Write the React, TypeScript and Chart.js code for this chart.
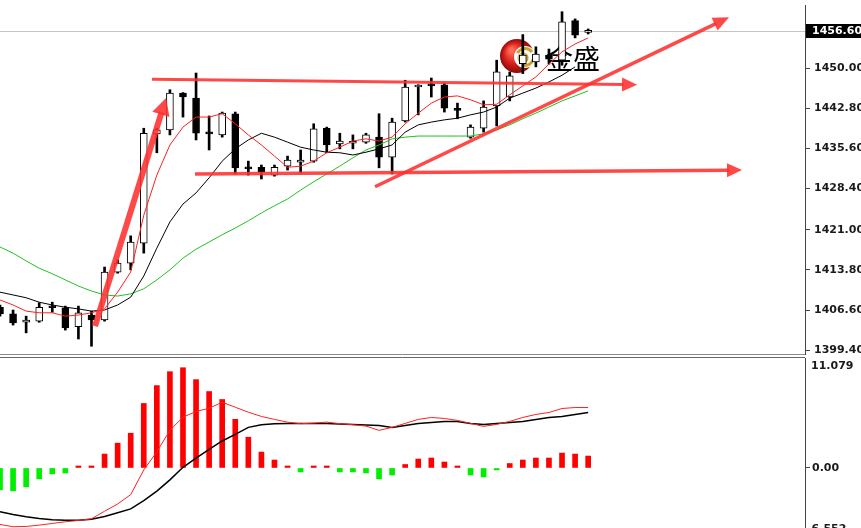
import React, { useEffect, useRef } from 'react';
import { Chart, registerables } from 'chart.js';

Chart.register(...registerables);

// ---------------- data ----------------
const BAR_INDEX = [
  0, 1, 2, 3, 4, 5, 6, 7, 8, 9, 10, 11, 12, 13, 14, 15, 16, 17, 18, 19, 20, 21, 22,
  23, 24, 25, 26, 27, 28, 29, 30, 31, 32, 33, 34, 35, 36, 37, 38, 39, 40, 41, 42, 43, 44, 45,
];

const OPEN = [
  1407.1, 1405.9, 1404.4, 1404.6, 1407.3, 1407.0, 1403.6, 1405.7, 1404.8, 1413.4,
  1415.0, 1418.6, 1438.2, 1438.9, 1445.5, 1444.6, 1438.5, 1438.0, 1441.8, 1432.2,
  1432.2, 1430.8, 1432.4, 1433.1, 1433.3, 1439.2, 1436.4, 1436.5, 1436.7, 1437.6,
  1434.0, 1440.5, 1446.6, 1447.0, 1447.0, 1442.6, 1437.6, 1439.2, 1443.2, 1444.8,
  1450.8, 1451.1, 1452.3, 1451.4, 1458.5, 1456.4,
];
const HIGH = [
  1407.5, 1406.6, 1405.5, 1407.9, 1408.0, 1407.3, 1407.3, 1406.4, 1414.3, 1415.6,
  1419.9, 1439.2, 1439.2, 1446.1, 1445.6, 1449.1, 1441.4, 1442.1, 1442.1, 1433.3,
  1432.6, 1432.6, 1434.2, 1435.3, 1440.0, 1439.4, 1438.3, 1438.0, 1438.3, 1441.8,
  1441.0, 1447.8, 1447.0, 1448.2, 1447.3, 1443.7, 1439.8, 1444.1, 1451.4, 1449.3,
  1456.0, 1453.8, 1453.4, 1460.1, 1458.8, 1457.0,
];
const LOW = [
  1405.5, 1403.9, 1402.5, 1404.4, 1406.2, 1403.0, 1401.4, 1400.1, 1404.6, 1413.2,
  1413.8, 1416.8, 1434.8, 1438.0, 1441.2, 1437.1, 1435.3, 1437.6, 1431.0, 1430.8,
  1430.1, 1430.6, 1431.7, 1431.2, 1433.1, 1434.8, 1435.5, 1435.5, 1436.5, 1432.1,
  1431.0, 1440.3, 1441.6, 1444.8, 1442.1, 1440.9, 1437.4, 1438.5, 1439.6, 1444.1,
  1449.0, 1450.2, 1450.7, 1450.5, 1455.4, 1456.1,
];
const CLOSE = [
  1405.9, 1404.3, 1404.8, 1407.1, 1407.0, 1403.4, 1406.1, 1404.8, 1413.4, 1415.0,
  1418.8, 1438.3, 1438.9, 1445.5, 1444.8, 1438.3, 1438.2, 1441.9, 1432.1, 1431.9,
  1431.3, 1432.2, 1433.5, 1433.5, 1439.1, 1436.2, 1436.9, 1436.7, 1438.0, 1434.0,
  1440.3, 1446.6, 1446.9, 1446.8, 1442.8, 1442.4, 1439.4, 1443.0, 1449.3, 1448.6,
  1452.3, 1452.5, 1451.6, 1458.3, 1455.9, 1456.6,
];

const MA_FAST = [
  1408.4, 1407.5, 1406.4, 1406.1, 1406.1, 1405.5, 1405.7, 1406.1, 1406.8, 1409.8,
  1413.4, 1423.6, 1430.8, 1436.2, 1439.4, 1441.2, 1441.2, 1441.8, 1440.0, 1438.0,
  1436.2, 1434.2, 1432.2, 1432.4, 1433.3, 1434.8, 1435.8, 1436.9, 1437.3, 1436.9,
  1437.6, 1440.0, 1441.9, 1443.7, 1444.8, 1445.0, 1444.3, 1443.4, 1443.5, 1445.2,
  1446.8, 1448.4, 1450.7, 1452.9, 1454.3, 1455.4,
];
const MA_MID = [
  1409.8, 1409.3, 1408.8, 1408.0, 1407.5, 1407.1, 1406.8, 1406.4, 1406.6, 1407.5,
  1408.9, 1412.7, 1417.7, 1422.4, 1425.6, 1427.6, 1430.3, 1433.3, 1435.5, 1437.1,
  1438.3, 1437.6, 1436.7, 1435.8, 1435.3, 1434.9, 1434.8, 1434.4, 1434.9, 1435.5,
  1436.2, 1438.5, 1439.8, 1440.3, 1440.7, 1441.0, 1441.6, 1442.1, 1443.0, 1444.6,
  1445.5, 1446.4, 1447.5, 1448.7, 1450.2, null,
];
const MA_SLOW = [
  1417.9, 1416.8, 1415.4, 1414.1, 1413.1, 1412.0, 1410.9, 1410.0, 1409.3, 1409.1,
  1409.5, 1410.4, 1412.0, 1413.8, 1415.9, 1417.5, 1418.8, 1420.1, 1421.3, 1422.6,
  1424.0, 1425.3, 1426.5, 1428.1, 1429.6, 1431.0, 1432.4, 1433.9, 1435.3, 1436.2,
  1437.3, 1437.6, 1437.8, 1437.8, 1437.8, 1437.8, 1437.8, 1438.2, 1438.9, 1439.8,
  1440.9, 1441.9, 1443.0, 1444.1, 1445.0, 1445.9,
];

const PRICE_TICKS = [1399.4, 1406.6, 1413.8, 1421.0, 1428.4, 1435.6, 1442.8, 1450.0];
const PRICE_MIN = 1398.71;
const PRICE_MAX = 1461.3;
const LAST_PRICE = 1456.6;
const LAST_PRICE_LABEL = '1456.60';

const MACD_HIST = [
  -2.2, -2.3, -1.9, -1.1, -0.6, -0.5, 0.15, 0.2, 1.4, 2.5,
  3.5, 6.5, 8.3, 9.7, 10.1, 8.9, 7.7, 6.9, 4.9, 3.1,
  1.6, 0.8, 0.15, -0.4, 0.15, 0.15, -0.4, -0.4, -0.5, -1.1,
  -0.7, 0.35, 0.9, 1.0, 0.6, 0.1, -0.7, -0.9, -0.2, 0.45,
  0.8, 1.0, 1.0, 1.5, 1.4, 1.2,
];
const MACD_LINE = [
  -5.69, -5.92, -5.89, -5.76, -5.59, -5.42, -5.29, -5.12, -4.36, -3.63,
  -2.69, -0.2, 1.63, 3.79, 5.12, 5.69, 6.02, 6.62, 6.12, 5.62,
  5.19, 4.89, 4.62, 4.46, 4.52, 4.62, 4.46, 4.36, 4.22, 3.79,
  4.09, 4.49, 4.89, 5.09, 4.99, 4.79, 4.49, 4.19, 4.39, 4.69,
  5.09, 5.39, 5.59, 5.99, 6.09, 6.09,
];
const SIGNAL_LINE = [
  -4.42, -4.69, -4.92, -5.09, -5.22, -5.26, -5.26, -5.16, -4.89, -4.52,
  -4.12, -3.29, -2.33, -1.2, 0.07, 1.0, 1.87, 2.72, 3.39, 4.09,
  4.36, 4.46, 4.49, 4.49, 4.49, 4.49, 4.44, 4.39, 4.34, 4.29,
  4.09, 4.29, 4.49, 4.59, 4.69, 4.69, 4.49, 4.39, 4.49, 4.59,
  4.69, 4.89, 5.09, 5.19, 5.39, 5.59,
];
const MACD_MAX = 11.079;
const MACD_MIN = -6.552;
const MACD_TICKS = [0];

// trend arrows in data coordinates: [bar index, price]
const TREND_FROM = [[7.27, 1403.7], [11.63, 1448.0], [14.92, 1431.0], [28.69, 1428.7]];
const TREND_TO = [[12.7, 1444.6], [48.74, 1447.0], [56.77, 1431.7], [55.78, 1459.1]];

const LOGO_TEXT = '金盛';

// ---------------- layout / style ----------------
const W = 861;
const H = 540;
const AXIS_W = 56;
const X_MIN = 0;
const X_MAX = 61.59;
const PRICE_BOTTOM = 354;
const MACD_TOP = 358;
const MACD_BOTTOM = 533;
const AXIS_FONT = "'DejaVu Sans', Verdana, sans-serif";
const ARROW_COLOR = 'rgba(255, 48, 48, 0.88)';
const ARROW_WIDTHS = [6, 3, 3.5, 3.5];
const ARROW_HEADS = [[17, 9], [15, 7], [15, 7], [16, 7]];

const pts = (arr: (number | null)[]) => BAR_INDEX.map((i) => ({ x: i, y: arr[i] }));

function fixAxis(scale: any) {
  scale.width = AXIS_W;
  scale.paddingTop = 0;
  scale.paddingBottom = 0;
}

function drawArrow(ctx: CanvasRenderingContext2D, x0: number, y0: number, x1: number, y1: number, lw: number, len: number, hw: number) {
  const ang = Math.atan2(y1 - y0, x1 - x0);
  const bx = x1 - Math.cos(ang) * len;
  const by = y1 - Math.sin(ang) * len;
  ctx.lineWidth = lw;
  ctx.lineCap = 'butt';
  ctx.beginPath();
  ctx.moveTo(x0, y0);
  ctx.lineTo(bx + Math.cos(ang) * 2, by + Math.sin(ang) * 2);
  ctx.stroke();
  ctx.beginPath();
  ctx.moveTo(x1, y1);
  ctx.lineTo(bx + Math.sin(ang) * hw, by - Math.cos(ang) * hw);
  ctx.lineTo(bx - Math.sin(ang) * hw, by + Math.cos(ang) * hw);
  ctx.closePath();
  ctx.fill();
}

function drawLogo(ctx: CanvasRenderingContext2D, cx: number, cy: number) {
  const g = ctx.createRadialGradient(cx - 6, cy - 6, 2, cx, cy, 17);
  g.addColorStop(0, '#ff6a55');
  g.addColorStop(0.55, '#d8201c');
  g.addColorStop(1, '#8a0c0c');
  ctx.fillStyle = g;
  ctx.beginPath();
  ctx.arc(cx, cy, 17, 0, Math.PI * 2);
  ctx.fill();
  ctx.fillStyle = '#ffffff';
  ctx.beginPath();
  ctx.arc(cx + 8, cy + 1, 11, 0, Math.PI * 2);
  ctx.fill();
  ctx.strokeStyle = '#c9a02a';
  ctx.lineWidth = 3;
  ctx.beginPath();
  ctx.arc(cx + 8, cy + 1, 8.5, -Math.PI * 0.85, -Math.PI * 0.2);
  ctx.stroke();
  ctx.beginPath();
  ctx.arc(cx + 8, cy + 1, 8.5, Math.PI * 0.1, Math.PI * 0.55);
  ctx.stroke();
  const gb = ctx.createRadialGradient(cx + 4, cy, 1, cx + 6, cy + 2, 6);
  gb.addColorStop(0, '#fff4a8');
  gb.addColorStop(1, '#b28a18');
  ctx.fillStyle = gb;
  ctx.beginPath();
  ctx.arc(cx + 6, cy + 2, 5.5, 0, Math.PI * 2);
  ctx.fill();
}

const pricePlugin = {
  id: 'priceDecor',
  beforeDatasetsDraw(chart: any) {
    const { ctx, chartArea: a, scales } = chart;
    const y = scales.y;
    ctx.save();
    const yl = Math.round(y.getPixelForValue(LAST_PRICE)) + 0.5;
    ctx.strokeStyle = '#c4c4c4';
    ctx.lineWidth = 1;
    ctx.beginPath();
    ctx.moveTo(a.left, yl);
    ctx.lineTo(a.right, yl);
    ctx.stroke();
    ctx.strokeStyle = '#8a8a8a';
    ctx.beginPath();
    ctx.moveTo(a.left, a.bottom + 0.5);
    ctx.lineTo(a.right, a.bottom + 0.5);
    ctx.stroke();
    drawLogo(ctx, a.left + 517, a.top + 51);
    ctx.fillStyle = '#000';
    ctx.font = "27px 'Noto Sans CJK SC', sans-serif";
    ctx.textBaseline = 'middle';
    ctx.textAlign = 'left';
    ctx.fillText(LOGO_TEXT, a.left + 546, a.top + 54);
    ctx.restore();
  },
  afterDatasetsDraw(chart: any) {
    const { ctx, scales } = chart;
    const { x, y } = scales;
    ctx.save();
    ctx.strokeStyle = ARROW_COLOR;
    ctx.fillStyle = ARROW_COLOR;
    TREND_FROM.forEach((f, i) => {
      const t = TREND_TO[i];
      drawArrow(
        ctx,
        x.getPixelForValue(f[0]), y.getPixelForValue(f[1]),
        x.getPixelForValue(t[0]), y.getPixelForValue(t[1]),
        ARROW_WIDTHS[i], ARROW_HEADS[i][0], ARROW_HEADS[i][1],
      );
    });
    ctx.restore();
  },
  afterDraw(chart: any) {
    const { ctx, chartArea: a, scales } = chart;
    const yl = scales.y.getPixelForValue(LAST_PRICE);
    ctx.save();
    ctx.fillStyle = '#000';
    ctx.fillRect(a.right + 1, Math.round(yl) - 7, AXIS_W, 14);
    ctx.fillStyle = '#fff';
    ctx.font = `bold 11px ${AXIS_FONT}`;
    ctx.textBaseline = 'middle';
    ctx.textAlign = 'left';
    ctx.fillText(LAST_PRICE_LABEL, a.right + 7, Math.round(yl));
    ctx.restore();
  },
};

const macdPlugin = {
  id: 'macdDecor',
  afterDraw(chart: any) {
    const { ctx, chartArea: a } = chart;
    ctx.save();
    ctx.strokeStyle = '#666';
    ctx.lineWidth = 1;
    ctx.beginPath();
    ctx.moveTo(a.left, a.top - 0.5);
    ctx.lineTo(a.right, a.top - 0.5);
    ctx.stroke();
    ctx.fillStyle = '#1a1a1a';
    ctx.font = `bold 11px ${AXIS_FONT}`;
    ctx.textAlign = 'left';
    ctx.textBaseline = 'middle';
    ctx.fillText(MACD_MAX.toFixed(3), a.right + 6, a.top + 8);
    ctx.fillText(MACD_MIN.toFixed(3), a.right + 2, 529);
    ctx.restore();
  },
};

function priceConfig(): any {
  const bodies = BAR_INDEX.map((i) => ({ x: i, y: [Math.min(OPEN[i], CLOSE[i]), Math.max(OPEN[i], CLOSE[i])] }));
  const wicks = BAR_INDEX.map((i) => ({ x: i, y: [LOW[i], HIGH[i]] }));
  const bodyColors = BAR_INDEX.map((i) => (CLOSE[i] >= OPEN[i] ? '#ffffff' : '#000000'));
  return {
    type: 'bar',
    data: {
      datasets: [
        { type: 'line', label: 'MA fast', data: pts(MA_FAST), borderColor: '#ff2020', borderWidth: 1, pointRadius: 0, tension: 0, order: 1 },
        { type: 'line', label: 'MA mid', data: pts(MA_MID), borderColor: '#000000', borderWidth: 1, pointRadius: 0, tension: 0, order: 1 },
        { type: 'line', label: 'MA slow', data: pts(MA_SLOW), borderColor: '#22c022', borderWidth: 1, pointRadius: 0, tension: 0, order: 1 },
        {
          type: 'bar', label: 'body', data: bodies, backgroundColor: bodyColors, borderColor: '#000', borderWidth: 1,
          borderSkipped: false, barThickness: 7, grouped: false, minBarLength: 2, order: 2,
        },
        { type: 'bar', label: 'wick', data: wicks, backgroundColor: '#000', barThickness: 2, grouped: false, order: 3 },
      ],
    },
    options: {
      responsive: false,
      animation: false,
      devicePixelRatio: 1,
      events: [],
      layout: { padding: { left: 0, right: 0, top: 5, bottom: H - PRICE_BOTTOM } },
      plugins: { legend: { display: false }, tooltip: { enabled: false } },
      scales: {
        x: { type: 'linear', min: X_MIN, max: X_MAX, display: false, offset: false },
        y: {
          type: 'linear',
          position: 'right',
          min: PRICE_MIN,
          max: PRICE_MAX,
          afterFit: fixAxis,
          afterBuildTicks: (s: any) => { s.ticks = PRICE_TICKS.map((v) => ({ value: v })); },
          ticks: {
            autoSkip: false,
            padding: 4,
            color: '#1a1a1a',
            font: { family: AXIS_FONT, size: 11, weight: 'bold' },
            callback: (v: any) => Number(v).toFixed(2),
          },
          grid: { drawOnChartArea: false, drawTicks: true, tickLength: 5, color: '#444' },
          border: { display: true, color: '#444', width: 1 },
        },
      },
    },
    plugins: [pricePlugin],
  };
}

function macdConfig(): any {
  return {
    type: 'bar',
    data: {
      datasets: [
        { type: 'line', label: 'MACD', data: pts(MACD_LINE), borderColor: '#ff2020', borderWidth: 1, pointRadius: 0, tension: 0, order: 1 },
        { type: 'line', label: 'Signal', data: pts(SIGNAL_LINE), borderColor: '#000000', borderWidth: 1.5, pointRadius: 0, tension: 0, order: 1 },
        {
          type: 'bar', label: 'Histogram', data: pts(MACD_HIST),
          backgroundColor: MACD_HIST.map((v) => (v >= 0 ? '#ff0000' : '#00ee00')),
          barThickness: 5, minBarLength: 2, grouped: false, order: 2,
        },
      ],
    },
    options: {
      responsive: false,
      animation: false,
      devicePixelRatio: 1,
      events: [],
      layout: { padding: { left: 0, right: 0, top: MACD_TOP, bottom: H - MACD_BOTTOM } },
      plugins: { legend: { display: false }, tooltip: { enabled: false } },
      scales: {
        x: { type: 'linear', min: X_MIN, max: X_MAX, display: false, offset: false },
        y: {
          type: 'linear',
          position: 'right',
          min: MACD_MIN,
          max: MACD_MAX,
          afterFit: fixAxis,
          afterBuildTicks: (s: any) => { s.ticks = MACD_TICKS.map((v) => ({ value: v })); },
          ticks: {
            autoSkip: false,
            padding: 2,
            color: '#1a1a1a',
            font: { family: AXIS_FONT, size: 11, weight: 'bold' },
            callback: (v: any) => Number(v).toFixed(2),
          },
          grid: { drawOnChartArea: false, drawTicks: true, tickLength: 5, color: '#444' },
          border: { display: true, color: '#444', width: 1 },
        },
      },
    },
    plugins: [macdPlugin],
  };
}

export default function App() {
  const priceRef = useRef<HTMLCanvasElement>(null);
  const macdRef = useRef<HTMLCanvasElement>(null);
  useEffect(() => {
    const c1 = new Chart(priceRef.current as HTMLCanvasElement, priceConfig());
    const c2 = new Chart(macdRef.current as HTMLCanvasElement, macdConfig());
    return () => {
      c1.destroy();
      c2.destroy();
    };
  }, []);
  const canvasStyle: React.CSSProperties = { position: 'absolute', left: 0, top: 0, width: W, height: H };
  return (
    <div style={{ position: 'fixed', left: 0, top: 0, width: W, height: 528, overflow: 'hidden', background: '#fff' }}>
      <canvas ref={priceRef} width={W} height={H} style={canvasStyle} />
      <canvas ref={macdRef} width={W} height={H} style={canvasStyle} />
    </div>
  );
}
